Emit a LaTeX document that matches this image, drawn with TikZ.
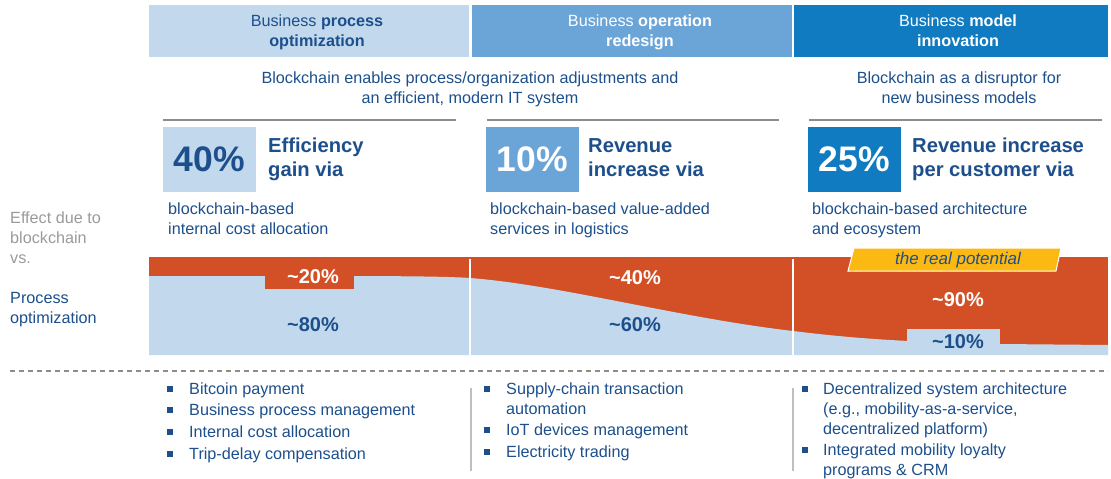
\documentclass[tikz,border=0pt]{standalone}
\usepackage{fontspec}
\setmainfont{Liberation Sans}
\usepackage{tikz}
\definecolor{darkblue}{HTML}{1C4F8C}
\definecolor{paleblue}{HTML}{C2D9ED}
\definecolor{midblue}{HTML}{6BA5D8}
\definecolor{deepblue}{HTML}{107BC0}
\definecolor{rust}{HTML}{D35027}
\definecolor{gold}{HTML}{FDB913}
\definecolor{labelgray}{HTML}{9A9A9A}
\definecolor{rulegray}{HTML}{8C8C8C}

\begin{document}
\begin{tikzpicture}[x=1pt,y=-1pt,
  body/.style={inner sep=0pt, text=darkblue, align=left, font=\fontsize{16.2}{20}\selectfont},
  headtxt/.style={inner sep=0pt, align=center, font=\fontsize{16.2}{20}\selectfont},
  gaintxt/.style={inner sep=0pt, text=darkblue, align=left, font=\fontsize{20.2}{24}\selectfont\bfseries},
  bignum/.style={inner sep=0pt, minimum width=93pt, minimum height=65pt, font=\fontsize{35.5}{35.5}\selectfont\bfseries},
  share/.style={inner sep=0pt, font=\fontsize{20}{20}\selectfont\bfseries},
  bul/.style={fill=darkblue, inner sep=0pt, minimum size=6.5pt},
  sep/.style={draw=black!25, line width=1.2pt}
]
\useasboundingbox (0,0) rectangle (1111,479);

% header row
\fill[paleblue] (149,5) rectangle (469,57);
\fill[midblue] (472,5) rectangle (792,57);
\fill[deepblue] (794,5) rectangle (1108,57);
\node[headtxt, text=darkblue, anchor=north] (h1) at (317,15) {Business \textbf{process}\\\textbf{optimization}};
\node[headtxt, text=white, anchor=north] (h2) at (640,15) {Business \textbf{operation}\\\textbf{redesign}};
\node[headtxt, text=white, anchor=north] (h3) at (958,15) {Business \textbf{model}\\\textbf{innovation}};

\node[headtxt, text=darkblue, anchor=north] (sub12) at (470,72) {Blockchain enables process/organization adjustments and\\an efficient, modern IT system};
\node[headtxt, text=darkblue, anchor=north] (sub3) at (959,72) {Blockchain as a disruptor for\\new business models};
\draw[rulegray, line width=1.5pt] (163,120) -- (456,120);
\draw[rulegray, line width=1.5pt] (487,120) -- (779,120);
\draw[rulegray, line width=1.5pt] (809,120) -- (1102,120);

% key figures
\node[bignum, fill=paleblue, text=darkblue] (n40) at (209.5,159.5) {40\%};
\node[bignum, fill=midblue, text=white] (n10) at (532.5,159.5) {10\%};
\node[bignum, fill=deepblue, text=white] (n25) at (854.5,159.5) {25\%};
\node[gaintxt, anchor=north west] (g1) at (268,138) {Efficiency\\gain via};
\node[gaintxt, anchor=north west] (g2) at (588,138) {Revenue\\increase via};
\node[gaintxt, anchor=north west] (g3) at (912,138) {Revenue increase\\per customer via};
\node[body, anchor=north west] (d1) at (168,203) {blockchain-based\\internal cost allocation};
\node[body, anchor=north west] (d2) at (490,203) {blockchain-based value-added\\services in logistics};
\node[body, anchor=north west] (d3) at (812,203) {blockchain-based architecture\\and ecosystem};

% left labels
\node[body, text=labelgray, anchor=north west] (effect) at (10,212) {Effect due to\\blockchain\\vs.};
\node[body, anchor=north west] (base) at (10,292) {Process\\optimization};

% band
\fill[rust] (149,257) rectangle (1108,355);
\fill[paleblue] (149,355) -- (149,276) -- (280,276) .. controls (380,276) and (440,276) .. (470,278)
  .. controls (560,285) and (680,318) .. (793,331) .. controls (850,338) and (900,342) .. (1000,344)
  -- (1108,345) -- (1108,355) -- cycle;
\fill[rust] (265,257) rectangle (354,289);
\fill[paleblue] (907,329) rectangle (1000,355);
\draw[white, line width=1.5pt] (470,259) -- (470,355);
\draw[white, line width=1.5pt] (793,259) -- (793,355);
\node[share, text=white] (p20) at (313,277) {\textasciitilde20\%};
\node[share, text=darkblue] (p80) at (313,325) {\textasciitilde80\%};
\node[share, text=white] (p40) at (635,278) {\textasciitilde40\%};
\node[share, text=darkblue] (p60) at (635,325) {\textasciitilde60\%};
\node[share, text=white] (p90) at (958,300) {\textasciitilde90\%};
\node[share, text=darkblue] (p10) at (958,342) {\textasciitilde10\%};
\filldraw[fill=gold, draw=white, line width=1pt] (854,248) -- (1061,248) -- (1056,271) -- (848,271) -- cycle;
\node[inner sep=0pt, text=darkblue, font=\fontsize{17}{17}\selectfont\itshape] (real) at (958,260) {the real potential};

\draw[rulegray, line width=1.2pt, dash pattern=on 5pt off 4pt] (10,371) -- (1108,371);

% examples
\draw[sep] (471,388) -- (471,471);
\draw[sep] (793,388) -- (793,471);

\node[bul] (b11) at (170,389) {};
\node[body, anchor=north west] (i11) at (189,383) {Bitcoin payment};
\node[bul] (b12) at (170,410) {};
\node[body, anchor=north west] (i12) at (189,404) {Business process management};
\node[bul] (b13) at (170,432) {};
\node[body, anchor=north west] (i13) at (189,426) {Internal cost allocation};
\node[bul] (b14) at (170,454) {};
\node[body, anchor=north west] (i14) at (189,448) {Trip-delay compensation};

\node[bul] (b21) at (487,389) {};
\node[body, anchor=north west] (i21) at (506,383) {Supply-chain transaction\\automation};
\node[bul] (b22) at (487,430) {};
\node[body, anchor=north west] (i22) at (506,424) {IoT devices management};
\node[bul] (b23) at (487,452) {};
\node[body, anchor=north west] (i23) at (506,446) {Electricity trading};

\node[bul] (b31) at (805,389) {};
\node[body, anchor=north west] (i31) at (823,383) {Decentralized system architecture\\(e.g., mobility-as-a-service,\\decentralized platform)};
\node[bul] (b32) at (805,450) {};
\node[body, anchor=north west] (i32) at (823,444) {Integrated mobility loyalty\\programs \& CRM};
\end{tikzpicture}
\end{document}
